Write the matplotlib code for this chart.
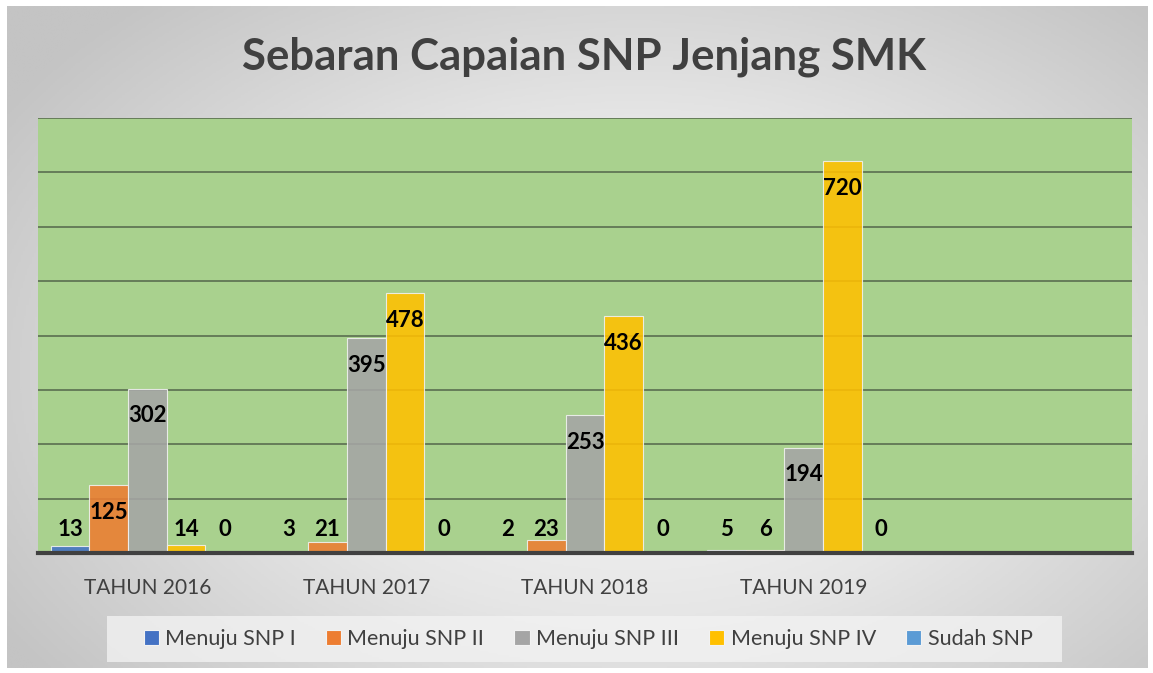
import numpy as np
import matplotlib.pyplot as plt
from matplotlib.patches import Rectangle
from matplotlib.colors import LinearSegmentedColormap

# data
categories = ['TAHUN 2016', 'TAHUN 2017', 'TAHUN 2018', 'TAHUN 2019', '']
series_names = ['Menuju SNP I', 'Menuju SNP II', 'Menuju SNP III', 'Menuju SNP IV', 'Sudah SNP']
snp1 = [13, 3, 2, 5]
snp2 = [125, 21, 23, 6]
snp3 = [302, 395, 253, 194]
snp4 = [14, 478, 436, 720]
sudah = [0, 0, 0, 0]
colors = ['#4472c4', '#ed7d31', '#a5a5a5', '#ffc000', '#5b9bd5']

plt.rcParams['font.family'] = ['Lato', 'DejaVu Sans']

W, H = 1153, 673
fig = plt.figure(figsize=(W / 100, H / 100), dpi=100)
fig.patch.set_facecolor('white')

# radial grey gradient behind the chart
bg = fig.add_axes([7 / W, 5 / H, (1148 - 7) / W, (668 - 6) / H])
yy, xx = np.mgrid[1:-1:300j, -1:1:500j]
r = np.sqrt(((xx - 0.1) * 0.8) ** 2 + ((yy + 0.1) * 0.7) ** 2)
grey_cmap = LinearSegmentedColormap.from_list('bgc', ['#fbfbfb', '#e6e6e6', '#c4c4c4'])
bg.imshow(r, cmap=grey_cmap, vmin=0, vmax=1.05, aspect='auto', extent=[0, 1, 0, 1])
bg.set_axis_off()

ax = fig.add_axes([38 / W, (H - 553) / H, (1132 - 38) / W, (553 - 118) / H])
ax.set_facecolor('#a9d18e')

data = [snp1, snp2, snp3, snp4, sudah]
x = np.arange(len(categories))
bw = 0.177
for i, (vals, name, c) in enumerate(zip(data, series_names, colors)):
    pos = x[:len(vals)] + (i - 2) * bw
    ax.bar(pos, vals, width=bw, color=c, alpha=0.88, edgecolor='#f2f2f2',
           linewidth=0.8, label=name, zorder=3)
    for px, v in zip(pos, vals):
        ly = max(v - 50, 43)
        ax.text(px, ly, str(v), ha='center', va='center', fontsize=16,
                fontweight='bold', color='black', zorder=4)

ax.set_xlim(-0.5, len(categories) - 0.5)
ax.set_ylim(0, 800)
ax.set_yticks(np.arange(0, 801, 100))
ax.yaxis.grid(True, color='#5a6e50', linewidth=1.2, zorder=1)
ax.tick_params(axis='y', left=False, labelleft=False)
ax.set_xticks(x)
ax.set_xticklabels(categories, fontsize=15, color='#404040')
ax.tick_params(axis='x', length=0, pad=18)
for s in ['top', 'right', 'left']:
    ax.spines[s].set_visible(False)
ax.spines['bottom'].set_color('#404040')
ax.spines['bottom'].set_linewidth(3)
ax.spines['bottom'].set_zorder(5)

fig.text(584 / W, 1 - 57 / H, 'Sebaran Capaian SNP Jenjang SMK', ha='center',
         va='center', fontsize=31.5, fontweight='bold', color='#404040')

# legend box
fig.patches.append(Rectangle((107 / W, (H - 662) / H), (1062 - 107) / W, 46 / H,
                             transform=fig.transFigure, facecolor='#f2f2f2',
                             alpha=0.8, edgecolor='none', zorder=1))
handles, labels = ax.get_legend_handles_labels()
leg = fig.legend(handles, labels, loc='center', bbox_to_anchor=(588 / W, 1 - 639 / H),
                 ncol=5, frameon=False, fontsize=15.5, handlelength=0.7,
                 handleheight=0.7, handletextpad=0.3, columnspacing=1.4)
for t in leg.get_texts():
    t.set_color('#404040')
for h in leg.legend_handles:
    h.set_alpha(1)

fig.savefig('out.png', dpi=100)
